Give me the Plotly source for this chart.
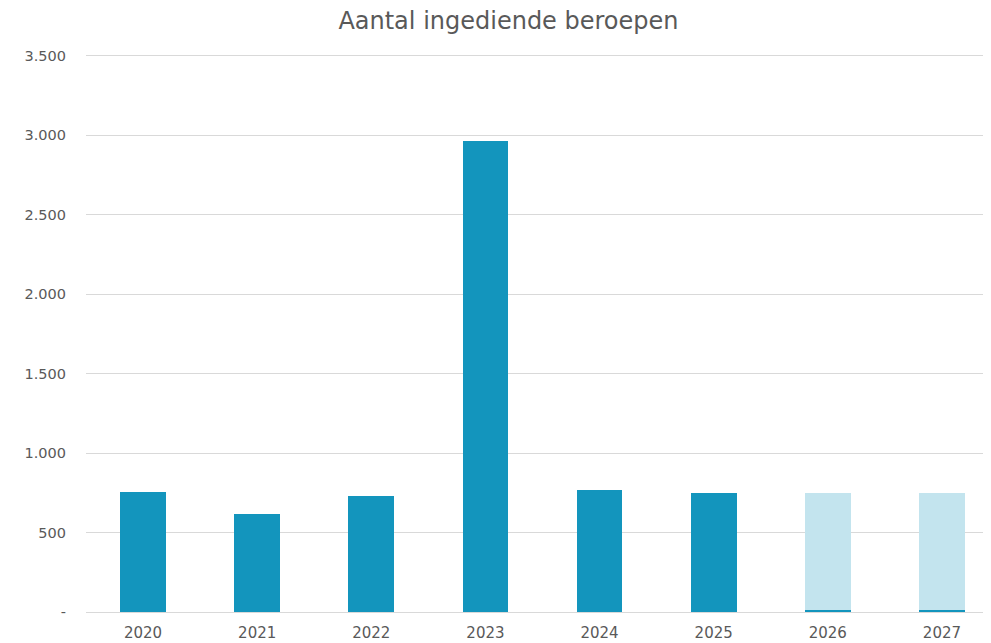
import plotly.graph_objects as go

jaren = ["2020", "2021", "2022", "2023", "2024", "2025", "2026", "2027"]
gerealiseerd = [755, 618, 730, 2962, 770, 748, 10, 10]
prognose = [0, 0, 0, 0, 0, 0, 738, 738]
y_ticks = [0, 500, 1000, 1500, 2000, 2500, 3000, 3500]
y_labels = ["-", "500", "1.000", "1.500", "2.000", "2.500", "3.000", "3.500"]

fig = go.Figure()
fig.add_trace(go.Bar(
    x=jaren, y=gerealiseerd, name="Gerealiseerd",
    marker=dict(color="#1395BD", line=dict(width=0)),
))
fig.add_trace(go.Bar(
    x=jaren, y=prognose, name="Prognose",
    marker=dict(color="#C3E4EE", line=dict(width=0)),
))

fig.update_layout(
    barmode="stack",
    bargap=0.6,
    width=991, height=643,
    margin=dict(l=78, r=0, t=46, b=39, autoexpand=False),
    paper_bgcolor="white", plot_bgcolor="white",
    font=dict(family="DejaVu Sans, Verdana, sans-serif", color="#595959", size=14),
    title=dict(text="Aantal ingediende beroepen", x=0.505, xanchor="center",
               yref="container", y=0.981, yanchor="middle",
               font=dict(size=24, color="#595959")),
    showlegend=False,
)
fig.update_yaxes(range=[0, 3512], tickvals=y_ticks, ticktext=y_labels,
                 showgrid=True, gridcolor="#D9D9D9", gridwidth=1,
                 zeroline=False, showline=False, ticks="", ticklabelstandoff=19,
                 tickfont=dict(size=14.5, color="#595959"))
fig.update_xaxes(showline=True, linecolor="#D9D9D9", linewidth=1, ticks="",
                 ticklabelstandoff=7,
                 tickfont=dict(size=15, color="#595959"))

fig.write_html("out.html")
